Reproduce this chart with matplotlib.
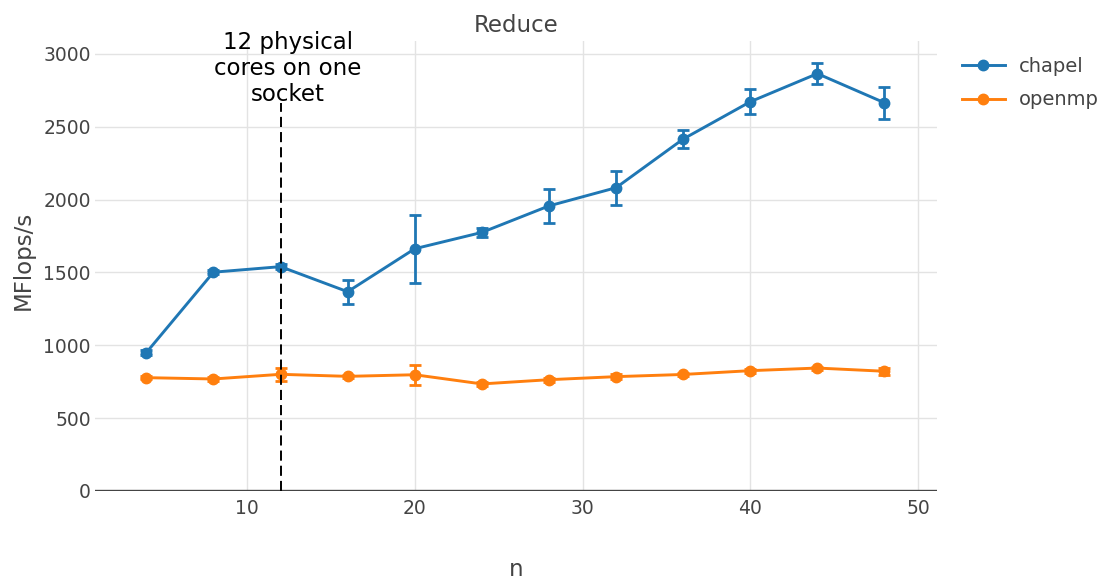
import matplotlib.pyplot as plt

# threads
n = [4, 8, 12, 16, 20, 24, 28, 32, 36, 40, 44, 48]

chapel = [950, 1502, 1540, 1368, 1663, 1775, 1957, 2082, 2416, 2672, 2865, 2665]
chapel_lo = [935, 1490, 1525, 1285, 1430, 1745, 1838, 1965, 2357, 2586, 2793, 2556]
chapel_hi = [965, 1514, 1555, 1448, 1895, 1805, 2075, 2198, 2477, 2757, 2935, 2773]

openmp = [778, 769, 801, 787, 798, 735, 764, 785, 800, 826, 844, 822]
openmp_lo = [766, 754, 756, 775, 730, 722, 750, 770, 788, 813, 834, 797]
openmp_hi = [790, 784, 844, 799, 866, 748, 778, 800, 812, 839, 854, 847]

text_col = '#444444'
plt.rcParams['font.family'] = ['DejaVu Sans']

fig = plt.figure(figsize=(11.03, 5.81), dpi=100)
ax = fig.add_axes([95/1103, 90/581, 842/1103, 450/581])

def draw(y, lo, hi, col, name):
    err = [[v - l for v, l in zip(y, lo)], [h - v for v, h in zip(y, hi)]]
    ax.errorbar(n, y, yerr=err, color=col, lw=2.1, marker='o', ms=7.5,
                elinewidth=2, capsize=4.6, capthick=2, label=name, zorder=3)

draw(chapel, chapel_lo, chapel_hi, '#1f77b4', 'chapel')
draw(openmp, openmp_lo, openmp_hi, '#ff7f0e', 'openmp')

# socket boundary
ax.plot([12, 12], [0, 2660], color='black', lw=1.4, dashes=(5.2, 2.6), zorder=4)
ax.text(12.45, 2645, '12 physical\ncores on one\nsocket', ha='center', va='bottom',
        fontsize=16.5, color='black', linespacing=1.17, zorder=5)

ax.set_xlim(0.94, 51.13)
ax.set_ylim(0, 3089)
ax.set_xticks([10, 20, 30, 40, 50])
ax.set_yticks([0, 500, 1000, 1500, 2000, 2500, 3000])
ax.grid(True, color='#e3e3e3', lw=1)
ax.set_axisbelow(True)
ax.axhline(0, color=text_col, lw=1.7, zorder=2)
for s in ax.spines.values():
    s.set_visible(False)
ax.tick_params(length=0, labelsize=13.5, labelcolor=text_col)
ax.tick_params(axis='x', pad=6)
ax.tick_params(axis='y', pad=3)

fig.text(516/1103, 1 - 25/581, 'Reduce', ha='center', va='center', fontsize=16.5, color=text_col)
fig.text(516/1103, 1 - 570/581, 'n', ha='center', va='center', fontsize=16.5, color=text_col)
fig.text(23/1103, 1 - 260/581, 'MFlops/s', ha='center', va='center', rotation=90,
         fontsize=16.5, color=text_col)

h, l = ax.get_legend_handles_labels()
h = [x[0] for x in h]
fig.legend(h, l, loc='upper left', bbox_to_anchor=(962/1103, 1 - 57/581), frameon=False,
           fontsize=14, handlelength=2.2, handletextpad=0.75, labelspacing=0.74,
           labelcolor=text_col, borderaxespad=0, borderpad=0)

plt.savefig('out.png', dpi=100)
